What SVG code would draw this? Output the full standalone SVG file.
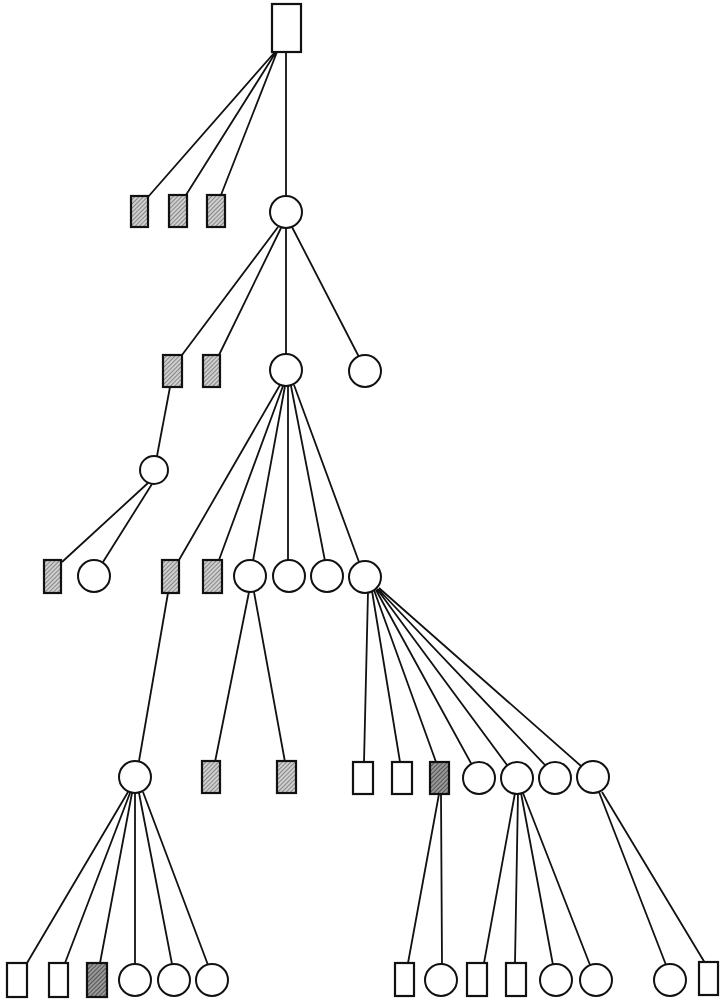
<svg xmlns="http://www.w3.org/2000/svg" width="720" height="1002" viewBox="0 0 720 1002">
<defs>
<pattern id="hatch" width="3" height="3" patternUnits="userSpaceOnUse" patternTransform="rotate(45)">
<rect width="3" height="3" fill="#cfcfcf"/>
<line x1="0" y1="0" x2="0" y2="3" stroke="#555" stroke-width="1.2"/>
</pattern>
<pattern id="hatchd" width="3" height="3" patternUnits="userSpaceOnUse" patternTransform="rotate(45)">
<rect width="3" height="3" fill="#999"/>
<line x1="0" y1="0" x2="0" y2="3" stroke="#333" stroke-width="1.4"/>
</pattern>
<style>
.e{stroke:#111;stroke-width:1.8;fill:none}
.r{fill:#fff;stroke:#111;stroke-width:2.2}
.s{fill:url(#hatch);stroke:#111;stroke-width:2.2}
.d{fill:url(#hatchd);stroke:#111;stroke-width:2.2}
.c{fill:#fff;stroke:#111;stroke-width:2}
</style>
</defs>
<rect width="720" height="1002" fill="#fff"/>
<g id="connectors">
<path class="e" d="M275 52L148 197M276 52L186 195M277 52L221 195M286 52L286 196"/>
<path class="e" d="M278 227L182 355M281 228L219 355M286 228L286 354M292 227L359 357"/>
<path class="e" d="M170 387L157 456"/>
<path class="e" d="M148 483L62 562M152 484L103 562"/>
<path class="e" d="M280 385L179 560M283 386L219 560M285 386L253 561M288 386L288 560M291 386L325 561M294 385L359 562"/>
<path class="e" d="M168 593L139 761"/>
<path class="e" d="M249 592L215 762M254 592L285 762"/>
<path class="e" d="M368 592L364 762M372 591L400 762M374 590L436 762M376 590L472 765M377 589L507 765M378 589L545 765M379 588L581 766"/>
<path class="e" d="M128 792L27 963M130 793L65 963M132 793L100 963M135 793L135 964M139 793L172 964M143 792L208 965"/>
<path class="e" d="M439 794L408 963M441 794L442 964"/>
<path class="e" d="M515 793L484 963M518 793L515 963M521 793L553 965M523 793L590 965"/>
<path class="e" d="M599 792L666 965M602 792L705 963"/>
</g>
<g id="n0"><rect class="r" x="272" y="4" width="29" height="48"/></g>
<g id="n1a"><rect class="s" x="131" y="196" width="17" height="31"/></g>
<g id="n1b"><rect class="s" x="169" y="195" width="18" height="32"/></g>
<g id="n1c"><rect class="s" x="207" y="195" width="18" height="32"/></g>
<g id="n1d"><circle class="c" cx="286" cy="212" r="16"/></g>
<g id="n2a"><rect class="s" x="163" y="355" width="19" height="32"/></g>
<g id="n2b"><rect class="s" x="203" y="355" width="17" height="32"/></g>
<g id="n2c"><circle class="c" cx="286" cy="370" r="16"/></g>
<g id="n2d"><circle class="c" cx="365" cy="371" r="16"/></g>
<g id="n3a"><circle class="c" cx="154" cy="470" r="14"/></g>
<g id="n4a"><rect class="s" x="44" y="560" width="17" height="33"/></g>
<g id="n4b"><circle class="c" cx="94" cy="576" r="16"/></g>
<g id="n4c"><rect class="s" x="162" y="560" width="17" height="33"/></g>
<g id="n4d"><rect class="s" x="203" y="560" width="19" height="33"/></g>
<g id="n4e"><circle class="c" cx="250" cy="576" r="16"/></g>
<g id="n4f"><circle class="c" cx="289" cy="576" r="16"/></g>
<g id="n4g"><circle class="c" cx="327" cy="576" r="16"/></g>
<g id="n4h"><circle class="c" cx="365" cy="577" r="16"/></g>
<g id="n5a"><circle class="c" cx="135" cy="777" r="16"/></g>
<g id="n5b"><rect class="s" x="202" y="761" width="18" height="32"/></g>
<g id="n5c"><rect class="s" x="277" y="761" width="19" height="32"/></g>
<g id="n5d"><rect class="r" x="353" y="762" width="20" height="32"/></g>
<g id="n5e"><rect class="r" x="392" y="762" width="20" height="32"/></g>
<g id="n5f"><rect class="d" x="430" y="762" width="19" height="32"/></g>
<g id="n5g"><circle class="c" cx="479" cy="778" r="16"/></g>
<g id="n5h"><circle class="c" cx="517" cy="778" r="16"/></g>
<g id="n5i"><circle class="c" cx="555" cy="778" r="16"/></g>
<g id="n5j"><circle class="c" cx="593" cy="777" r="16"/></g>
<g id="n6a"><rect class="r" x="7" y="963" width="20" height="34"/></g>
<g id="n6b"><rect class="r" x="49" y="963" width="19" height="34"/></g>
<g id="n6c"><rect class="d" x="87" y="963" width="20" height="34"/></g>
<g id="n6d"><circle class="c" cx="135" cy="980" r="16"/></g>
<g id="n6e"><circle class="c" cx="174" cy="980" r="16"/></g>
<g id="n6f"><circle class="c" cx="212" cy="980" r="16"/></g>
<g id="n6g"><rect class="r" x="395" y="963" width="19" height="33"/></g>
<g id="n6h"><circle class="c" cx="441" cy="980" r="16"/></g>
<g id="n6i"><rect class="r" x="467" y="963" width="20" height="33"/></g>
<g id="n6j"><rect class="r" x="506" y="963" width="20" height="33"/></g>
<g id="n6k"><circle class="c" cx="556" cy="980" r="16"/></g>
<g id="n6l"><circle class="c" cx="596" cy="980" r="16"/></g>
<g id="n6m"><circle class="c" cx="670" cy="980" r="16"/></g>
<g id="n6n"><rect class="r" x="699" y="962" width="19" height="33"/></g>
</svg>
